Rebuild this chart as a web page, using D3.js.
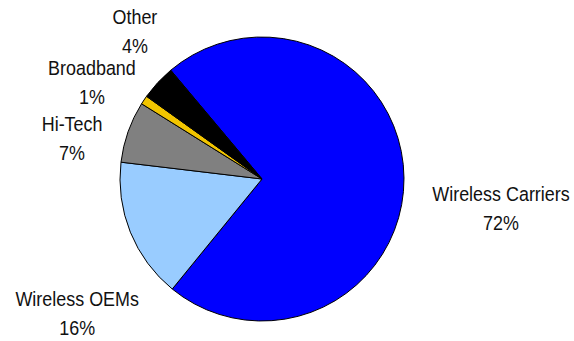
<!DOCTYPE html>
<html>
<head>
<meta charset="utf-8">
<script src="https://cdn.jsdelivr.net/npm/d3@7"></script>
<style>
  html, body { margin: 0; padding: 0; background: #fff; }
  text { font-family: "Liberation Sans", Arial, sans-serif; font-size: 19.5px; fill: #111; }
</style>
</head>
<body>
<div id="chart"></div>
<script>
// data
const categories = ["Wireless Carriers", "Wireless OEMs", "Hi-Tech", "Broadband", "Other"];
const shares = [72, 16, 7, 1, 4];
const sliceColors = ["#0000ff", "#99ccff", "#808080", "#f2c500", "#000000"];

const width = 574;
const height = 341;
const center = { x: 262, y: 179 };
const radius = 142;

const svg = d3.select("#chart")
    .append("svg")
    .attr("width", width)
    .attr("height", height);

const data = categories.map((c, i) => ({ name: c, value: shares[i], color: sliceColors[i] }));

// excel-like rotation: first slice starts at -40 degrees
const start = -40 * Math.PI / 180;
const pie = d3.pie()
    .sort(null)
    .value(d => d.value)
    .startAngle(start)
    .endAngle(start + 2 * Math.PI);

const arc = d3.arc().innerRadius(0).outerRadius(radius);
const labelArc = d3.arc().innerRadius(195).outerRadius(195);

const g = svg.append("g")
    .attr("transform", `translate(${center.x},${center.y})`);

const arcs = pie(data);

g.selectAll("path")
    .data(arcs)
    .enter()
    .append("path")
    .attr("d", arc)
    .attr("fill", d => d.data.color)
    .attr("stroke", "#000")
    .attr("stroke-width", 1)
    .attr("stroke-linejoin", "round");

// excel shoves some labels around to avoid the pie, mimic that
const labelNudge = [[44, 31], [-4, 62], [-6, 25], [-8, 12], [16, -15]];

const labels = g.selectAll("g.label")
    .data(arcs)
    .enter()
    .append("g")
    .attr("class", "label")
    .attr("transform", (d, i) => {
        const c = labelArc.centroid(d);
        return `translate(${c[0] + labelNudge[i][0]},${c[1] + labelNudge[i][1]}) scale(0.92,1)`;
    });

labels.append("text")
    .attr("text-anchor", "middle")
    .attr("y", -8)
    .text(d => d.data.name);

labels.append("text")
    .attr("text-anchor", "middle")
    .attr("y", 21)
    .text(d => d.data.value + "%");
</script>
</body>
</html>
